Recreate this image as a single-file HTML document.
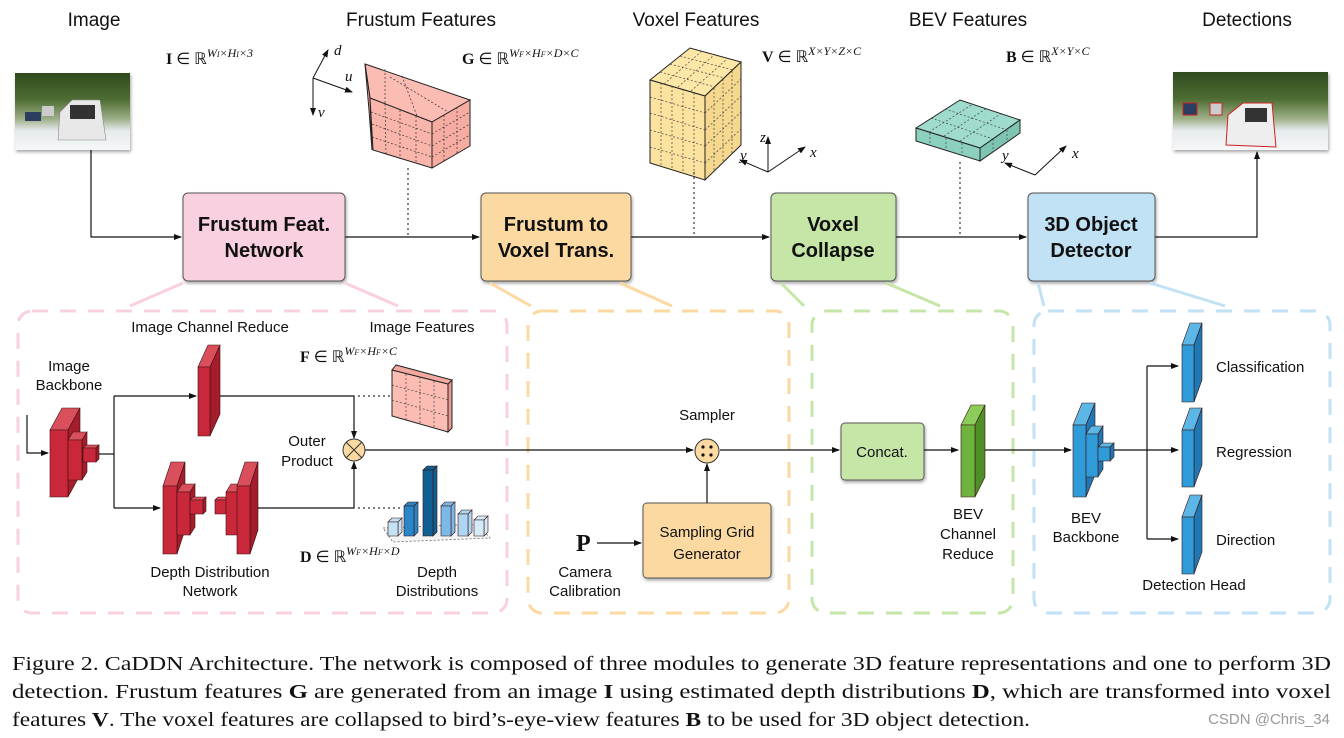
<!DOCTYPE html>
<html><head><meta charset="utf-8"><style>
html,body{margin:0;padding:0;background:#fff;width:1344px;height:738px;overflow:hidden}
svg{display:block}
.t{font-family:"Liberation Sans",sans-serif;fill:#111}
.m{font-family:"Liberation Serif",serif;fill:#111}
.bx{font-family:"Liberation Sans",sans-serif;font-weight:bold;font-size:20px;fill:#111;text-anchor:middle}
</style></head><body>
<svg id="s" width="1344" height="738" viewBox="0 0 1344 738" xmlns="http://www.w3.org/2000/svg">
<defs>
<marker id="a" markerWidth="8" markerHeight="8" refX="7" refY="4" orient="auto" markerUnits="userSpaceOnUse"><path d="M0,1 L8,4 L0,7 z" fill="#111"/></marker>
<linearGradient id="ph" x1="0" y1="0" x2="0" y2="1"><stop offset="0" stop-color="#2f4a1e"/><stop offset="0.35" stop-color="#4f6e34"/><stop offset="0.6" stop-color="#9fb08a"/><stop offset="0.75" stop-color="#e6ebee"/><stop offset="1" stop-color="#f6f7f8"/></linearGradient>
<filter id="sh" x="-10%" y="-10%" width="125%" height="130%"><feDropShadow dx="1" dy="2" stdDeviation="1.5" flood-color="#000" flood-opacity="0.35"/></filter>
</defs>

<g class="t" font-size="19" text-anchor="middle">
<text x="94" y="26">Image</text>
<text x="421" y="26">Frustum Features</text>
<text x="696" y="26">Voxel Features</text>
<text x="968" y="26">BEV Features</text>
<text x="1247" y="26">Detections</text>
</g>

<g class="m" font-size="16">
<text x="166" y="64"><tspan font-weight="bold">I</tspan> ∈ ℝ<tspan font-size="12" dy="-7" font-style="italic">W<tspan font-size="8">I</tspan>×H<tspan font-size="8">I</tspan>×3</tspan></text>
<text x="462" y="64"><tspan font-weight="bold">G</tspan> ∈ ℝ<tspan font-size="12" dy="-7" font-style="italic">W<tspan font-size="8">F</tspan>×H<tspan font-size="8">F</tspan>×D×C</tspan></text>
<text x="762" y="62"><tspan font-weight="bold">V</tspan> ∈ ℝ<tspan font-size="12" dy="-7" font-style="italic">X×Y×Z×C</tspan></text>
<text x="1006" y="62"><tspan font-weight="bold">B</tspan> ∈ ℝ<tspan font-size="12" dy="-7" font-style="italic">X×Y×C</tspan></text>
<text x="300" y="362"><tspan font-weight="bold">F</tspan> ∈ ℝ<tspan font-size="12" dy="-7" font-style="italic">W<tspan font-size="8">F</tspan>×H<tspan font-size="8">F</tspan>×C</tspan></text>
<text x="300" y="562"><tspan font-weight="bold">D</tspan> ∈ ℝ<tspan font-size="12" dy="-7" font-style="italic">W<tspan font-size="8">F</tspan>×H<tspan font-size="8">F</tspan>×D</tspan></text>
</g>

<g filter="url(#sh)">
<rect x="15" y="73" width="115" height="77" fill="url(#ph)"/>
<rect x="1173" y="72" width="155" height="78" fill="url(#ph)"/>
</g>
<path d="M58,140 L60,112 L72,100 L100,100 L106,140 Z" fill="#e8e8e8" stroke="#888" stroke-width="0.6"/>
<rect x="70" y="105" width="25" height="14" fill="#333"/>
<rect x="25" y="112" width="16" height="9" fill="#2c3e60"/>
<rect x="42" y="106" width="12" height="10" fill="#ccc"/>
<path d="M1226,145 L1228,115 L1243,103 L1272,103 L1276,147 Z" fill="#eee" stroke="#c22" stroke-width="1"/>
<rect x="1245" y="108" width="22" height="14" fill="#333"/>
<rect x="1183" y="103" width="14" height="12" fill="#2c3e60" stroke="#c22"/>
<rect x="1210" y="103" width="12" height="12" fill="#ccc" stroke="#c22"/>

<g stroke="#111" stroke-width="1" fill="none">
<line x1="313" y1="78" x2="328" y2="50" marker-end="url(#a)"/>
<line x1="313" y1="78" x2="352" y2="92" marker-end="url(#a)"/>
<line x1="313" y1="78" x2="313" y2="115" marker-end="url(#a)"/>
<line x1="768" y1="172" x2="768" y2="137" marker-end="url(#a)"/>
<line x1="768" y1="172" x2="805" y2="147" marker-end="url(#a)"/>
<line x1="768" y1="172" x2="740" y2="160" marker-end="url(#a)"/>
<line x1="1035" y1="175" x2="1066" y2="146" marker-end="url(#a)"/>
<line x1="1035" y1="175" x2="1005" y2="163" marker-end="url(#a)"/>
</g>
<g class="m" font-size="15" font-style="italic">
<text x="334" y="55">d</text><text x="345" y="81">u</text><text x="318" y="117">v</text>
<text x="760" y="142">z</text><text x="810" y="157">x</text><text x="740" y="160">y</text>
<text x="1072" y="158">x</text><text x="1002" y="160">y</text>
</g>

<g stroke="#222" stroke-width="1">
<polygon points="365,64 470,100 432,122 370,98" fill="#fbbcb3"/>
<polygon points="365,64 370,98 372,150 369,110" fill="#f4a59b"/>
<polygon points="370,98 432,122 432,168 373,150" fill="#fab5ab"/>
<polygon points="432,122 470,100 470,146 432,168" fill="#f7aca2"/>
</g>
<g stroke="#333" stroke-width="0.7" stroke-dasharray="2,2" fill="none">
<path d="M385,104 L386,155 M400,110 L400,159 M416,116 L416,164 M371,112 L432,134 M372,124 L432,146 M372,137 L432,157 M444,115 L444,161 M457,107 L457,154 M432,134 L470,112 M432,146 L470,124 M432,157 L470,135 M385,69 L385,104 M390,77 L448,112 M402,76 L417,116"/>
</g>

<g stroke="#222" stroke-width="1">
<polygon points="650,80 690,48 741,62 705,96" fill="#fde7a6"/>
<polygon points="650,80 705,96 705,180 650,163" fill="#fbe29f"/>
<polygon points="705,96 741,62 741,145 705,180" fill="#f5d88e"/>
</g>
<g stroke="#444" stroke-width="0.7" stroke-dasharray="2,2" fill="none">
<path d="M661,83 L661,167 M672,86 L672,170 M683,89 L683,173 M694,93 L694,177 M650,97 L705,113 M650,113 L705,130 M650,130 L705,146 M650,147 L705,163 M714,88 L714,171 M723,79 L723,162 M732,71 L732,153 M705,113 L741,79 M705,130 L741,96 M705,146 L741,112 M705,163 L741,129 M660,72 L715,87 M670,64 L725,78 M680,56 L733,70 M664,84 L702,51 M678,87 L714,55 M691,91 L727,59"/>
</g>

<g stroke="#222" stroke-width="1">
<polygon points="916,128 960,100 1020,120 980,148" fill="#9fdccd"/>
<polygon points="916,128 980,148 980,161 916,141" fill="#8cd0c0"/>
<polygon points="980,148 1020,120 1020,133 980,161" fill="#7ec4b3"/>
</g>
<g stroke="#444" stroke-width="0.7" stroke-dasharray="2,2" fill="none">
<path d="M931,118 L993,139 M945,109 L1007,130 M929,132 L973,104 M944,136 L987,108 M960,141 L1002,113 M930,133 L930,145 M946,138 L946,150 M962,143 L962,155 M993,139 L993,152 M1007,130 L1007,142"/>
</g>

<g stroke="#333" stroke-width="1.2" stroke-dasharray="2,3">
<line x1="408" y1="168" x2="408" y2="236"/>
<line x1="694" y1="172" x2="694" y2="236"/>
<line x1="960" y1="162" x2="960" y2="236"/>
<line x1="358" y1="396" x2="392" y2="396"/>
<line x1="358" y1="508" x2="400" y2="508"/>
</g>

<g stroke="#111" stroke-width="1.2" fill="none">
<polyline points="91,150 91,237 181,237" marker-end="url(#a)"/>
<line x1="345" y1="237" x2="479" y2="237" marker-end="url(#a)"/>
<line x1="631" y1="237" x2="769" y2="237" marker-end="url(#a)"/>
<line x1="896" y1="237" x2="1026" y2="237" marker-end="url(#a)"/>
<polyline points="1155,237 1257,237 1257,152" marker-end="url(#a)"/>
</g>

<g filter="url(#sh)" stroke="#555" stroke-width="1">
<rect x="183" y="193" width="162" height="88" rx="5" fill="#f8d0df"/>
<rect x="481" y="193" width="150" height="88" rx="5" fill="#fdd9a2"/>
<rect x="771" y="193" width="125" height="88" rx="5" fill="#c6e6a8"/>
<rect x="1028" y="193" width="127" height="88" rx="5" fill="#c1e1f5"/>
<rect x="841" y="423" width="83" height="57" rx="4" fill="#c6e6a8"/>
<rect x="643" y="503" width="128" height="75" rx="4" fill="#fdd9a2"/>
</g>
<text class="bx" x="264" y="231">Frustum Feat.</text><text class="bx" x="264" y="257">Network</text>
<text class="bx" x="556" y="231">Frustum to</text><text class="bx" x="556" y="257">Voxel Trans.</text>
<text class="bx" x="833" y="231">Voxel</text><text class="bx" x="833" y="257">Collapse</text>
<text class="bx" x="1091" y="231">3D Object</text><text class="bx" x="1091" y="257">Detector</text>

<g stroke-width="3" fill="none">
<path d="M183,283 L130,306 M345,283 L398,306" stroke="#f8d0df"/>
<path d="M490,283 L531,306 M620,283 L672,306" stroke="#fdd9a2"/>
<path d="M781,283 L804,306 M886,283 L940,306" stroke="#c6e6a8"/>
<path d="M1038,283 L1044,306 M1150,283 L1225,306" stroke="#c1e1f5"/>
</g>

<g fill="none" stroke-width="3" stroke-dasharray="16,12">
<rect x="18" y="311" width="489" height="302" rx="14" stroke="#f8d0df"/>
<rect x="528" y="311" width="261" height="302" rx="14" stroke="#fdd9a2"/>
<rect x="812" y="311" width="201" height="302" rx="14" stroke="#c6e6a8"/>
<rect x="1034" y="311" width="296" height="302" rx="14" stroke="#c1e1f5"/>
</g>

<g stroke="#111" stroke-width="1.2" fill="none">
<polyline points="27,415 27,453 48,453" marker-end="url(#a)"/>
<polyline points="98,454 114,454"/>
<polyline points="114,396 114,508"/>
<line x1="114" y1="396" x2="196" y2="396" marker-end="url(#a)"/>
<line x1="114" y1="508" x2="160" y2="508" marker-end="url(#a)"/>
<polyline points="220,396 354,396 354,438" marker-end="url(#a)"/>
<polyline points="258,508 354,508 354,462" marker-end="url(#a)"/>
<line x1="365" y1="450" x2="693" y2="450" marker-end="url(#a)"/>
<line x1="720" y1="450" x2="839" y2="450" marker-end="url(#a)"/>
<line x1="924" y1="450" x2="958" y2="450" marker-end="url(#a)"/>
<line x1="980" y1="450" x2="1071" y2="450" marker-end="url(#a)"/>
<line x1="707" y1="503" x2="707" y2="464" marker-end="url(#a)"/>
<line x1="597" y1="543" x2="641" y2="543" marker-end="url(#a)"/>
<line x1="1110" y1="450" x2="1147" y2="450"/>
<polyline points="1147,366 1147,539"/>
<line x1="1147" y1="366" x2="1178" y2="366" marker-end="url(#a)"/>
<line x1="1147" y1="450" x2="1178" y2="450" marker-end="url(#a)"/>
<line x1="1147" y1="539" x2="1178" y2="539" marker-end="url(#a)"/>
</g>
<circle cx="354" cy="450" r="11" fill="#fdd9a2" stroke="#333"/>
<path d="M346,442 L362,458 M362,442 L346,458" stroke="#333"/>
<circle cx="707" cy="451" r="12" fill="#fdd9a2" stroke="#333"/>
<g fill="#111"><circle cx="703" cy="447" r="1.6"/><circle cx="711" cy="447" r="1.6"/><circle cx="703" cy="455" r="1.6"/><circle cx="711" cy="455" r="1.6"/></g>

<g stroke="#222" stroke-width="1">
<polygon points="392,370 448,384 448,432 392,416" fill="#fbbcb3"/>
<polygon points="448,384 452,380 452,428 448,432" fill="#e89a90"/>
<polygon points="392,370 396,365 452,380 448,384" fill="#f2a89e"/>
</g>
<g stroke="#444" stroke-width="0.7" stroke-dasharray="2,2" fill="none">
<path d="M406,374 L406,420 M420,377 L420,424 M434,381 L434,428 M392,385 L448,400 M392,400 L448,416"/>
</g>

<polygon points="383,528 478,524 490,538 393,542" fill="#f3f3f3" stroke="#666" stroke-width="0.8" stroke-dasharray="2,2"/>
<g id="bars"></g>
<g id="blk"></g>

<g class="t" font-size="15" text-anchor="middle">
<text x="210" y="332">Image Channel Reduce</text>
<text x="422" y="332">Image Features</text>
<text x="69" y="371">Image</text><text x="69" y="390">Backbone</text>
<text x="307" y="446">Outer</text><text x="307" y="466">Product</text>
<text x="210" y="577">Depth Distribution</text><text x="210" y="596">Network</text>
<text x="437" y="577">Depth</text><text x="437" y="596">Distributions</text>
<text x="707" y="420">Sampler</text>
<text x="585" y="577">Camera</text><text x="585" y="596">Calibration</text>
<text x="882" y="457">Concat.</text>
<text x="707" y="537">Sampling Grid</text><text x="707" y="559">Generator</text>
<text x="968" y="519">BEV</text><text x="968" y="539">Channel</text><text x="968" y="559">Reduce</text>
<text x="1086" y="523">BEV</text><text x="1086" y="542">Backbone</text>
<text x="1194" y="590">Detection Head</text>
</g>
<g class="t" font-size="15">
<text x="1216" y="372">Classification</text>
<text x="1216" y="457">Regression</text>
<text x="1216" y="545">Direction</text>
</g>
<text class="m" x="576" y="551" font-size="24" font-weight="bold">P</text>

<g class="m" font-size="19.5">
<text x="12" y="670" textLength="1319" lengthAdjust="spacingAndGlyphs">Figure 2. CaDDN Architecture. The network is composed of three modules to generate 3D feature representations and one to perform 3D</text>
<text x="12" y="698" textLength="1319" lengthAdjust="spacingAndGlyphs">detection.  Frustum features <tspan font-weight="bold">G</tspan> are generated from an image <tspan font-weight="bold">I</tspan> using estimated depth distributions <tspan font-weight="bold">D</tspan>, which are transformed into voxel</text>
<text x="12" y="726" textLength="1018" lengthAdjust="spacingAndGlyphs">features <tspan font-weight="bold">V</tspan>. The voxel features are collapsed to bird’s-eye-view features <tspan font-weight="bold">B</tspan> to be used for 3D object detection.</text>
</g>
<text x="1330" y="724" text-anchor="end" font-family="Liberation Sans,sans-serif" font-size="15" fill="#999">CSDN @Chris_34</text>
</svg>
<script>
var NS="http://www.w3.org/2000/svg";
function poly(g,pts,f){var p=document.createElementNS(NS,"polygon");p.setAttribute("points",pts);p.setAttribute("fill",f);p.setAttribute("stroke","#3a1010");p.setAttribute("stroke-width","0.6");g.appendChild(p);}
function blk(g,x,y,w,h,dx,dy,c){
 poly(g,x+","+y+" "+(x+dx)+","+(y-dy)+" "+(x+w+dx)+","+(y-dy)+" "+(x+w)+","+y,c[2]);
 poly(g,(x+w)+","+y+" "+(x+w+dx)+","+(y-dy)+" "+(x+w+dx)+","+(y+h-dy)+" "+(x+w)+","+(y+h),c[1]);
 poly(g,x+","+y+" "+(x+w)+","+y+" "+(x+w)+","+(y+h)+" "+x+","+(y+h),c[0]);
}
var g=document.getElementById("blk");
var R=["#c9283a","#a51d2c","#d9505c"],B=["#2f9bd8","#1f78b4","#5cb6e6"],G=["#6fb33f","#4e8f26","#8ccc5a"];
blk(g,50,430,18,67,12,22,R);blk(g,68,440,14,40,5,8,R);blk(g,83,448,13,14,3,3,R);
blk(g,198,367,12,69,10,22,R);
blk(g,163,486,14,68,8,24,R);blk(g,177,492,13,43,5,8,R);blk(g,190,500,13,14,3,3,R);
blk(g,215,500,13,14,3,3,R);blk(g,226,492,13,43,5,8,R);blk(g,237,486,13,68,8,24,R);
blk(g,961,425,14,72,10,20,G);
blk(g,1073,425,13,72,9,22,B);blk(g,1086,434,12,43,5,8,B);blk(g,1098,447,12,14,4,4,B);
blk(g,1182,345,12,57,8,22,B);blk(g,1182,430,12,57,8,22,B);blk(g,1182,517,12,57,8,22,B);
var b=document.getElementById("bars");
var bars=[[388,522,"#c3e2f6"],[404,506,"#2a86c9"],[423,470,"#0f5f92"],[441,506,"#7cb9e6"],[458,514,"#acd6f1"],[474,520,"#d4ebf8"]];
bars.forEach(function(v){var x=v[0],y=v[1],w=10;
 poly(b,x+","+y+" "+(x+4)+","+(y-4)+" "+(x+w+4)+","+(y-4)+" "+(x+w)+","+y,v[2]);
 poly(b,(x+w)+","+y+" "+(x+w+4)+","+(y-4)+" "+(x+w+4)+","+532+" "+(x+w)+","+536,v[2]);
 poly(b,x+","+y+" "+(x+w)+","+y+" "+(x+w)+",536 "+x+",536",v[2]);});
</script>
</body></html>
